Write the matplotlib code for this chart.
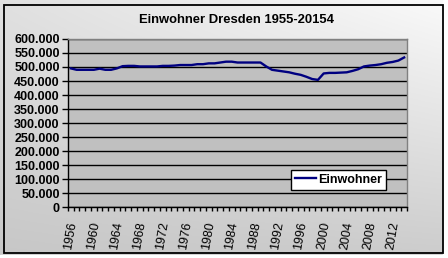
import matplotlib
matplotlib.use("Agg")
import matplotlib.pyplot as plt
import numpy as np
from matplotlib.patches import Rectangle
from matplotlib.ticker import FixedLocator, FuncFormatter

years = list(range(1956, 2015))
einwohner = [495000, 490000, 490000, 490000, 490000, 494000, 490000, 490000, 495000, 503000,
             504000, 504000, 502000, 502000, 502000, 502000, 504000, 504000, 505000, 507000,
             507000, 507000, 510000, 510000, 513000, 513000, 516000, 519000, 519000, 516000,
             516000, 516000, 516000, 516000, 502000, 490000, 487000, 484000, 481000, 476000,
             472000, 465000, 457000, 454000, 477000, 479000, 479000, 480000, 481000, 486000,
             492000, 502000, 505000, 507000, 510000, 515000, 518000, 523000, 534000]
title = "Einwohner Dresden 1955-20154"
series_name = "Einwohner"
y_ticks = list(range(0, 600001, 50000))
label_years = list(range(1956, 2013, 4))

plt.rcParams['font.family'] = ['Liberation Sans', 'DejaVu Sans']

W, H = 448, 258
fig = plt.figure(figsize=(W / 100, H / 100), dpi=100)

# background gradient
bg = fig.add_axes([0, 0, 1, 1], zorder=-10)
bg.set_axis_off()
yy, xx = np.mgrid[0:1:200j, 0:1:300j]
val = 0.78 + 0.10 * (1 - yy) + 0.08 * xx * (1 - yy) + 0.02 * xx
bg.imshow(np.dstack([val, val, val]), extent=[0, 1, 0, 1], aspect='auto', origin='upper')
bg.set_xlim(0, 1); bg.set_ylim(0, 1)
bg.add_patch(Rectangle((0.988, 0), 0.02, 1, color='white', transform=bg.transAxes))
bg.add_patch(Rectangle((0, 0), 1, 0.012, color='white', transform=bg.transAxes))
bg.add_patch(Rectangle((4 / W, (H - 253) / H), (443 - 4) / W, (253 - 5) / H,
                       fill=False, edgecolor='black', lw=1.3, transform=bg.transAxes))

ax = fig.add_axes([68 / W, (H - 207) / H, 339 / W, 168 / H])
ax.set_facecolor('#C0C0C0')
x = np.arange(len(years))
ax.plot(x, einwohner, color='#000080', lw=1.7, label=series_name, zorder=3)
ax.set_xlim(-0.5, len(years) - 0.5)
ax.set_ylim(0, 600000)

ax.set_yticks(y_ticks)
ax.yaxis.set_major_formatter(FuncFormatter(lambda v, p: f"{int(v):,}".replace(",", ".")))
ax.grid(axis='y', color='black', lw=1.0)
ax.set_axisbelow(True)

ax.set_xticks([years.index(yv) for yv in label_years])
ax.set_xticklabels([str(yv) for yv in label_years], rotation=80, fontsize=9,
                   ha='center', va='top')
ax.tick_params(axis='x', which='major', length=0, pad=10)
ax.xaxis.set_minor_locator(FixedLocator(np.arange(-0.5, len(years), 1.0)))
ax.tick_params(axis='x', which='minor', length=3, width=1, color='black', direction='out')
ax.tick_params(axis='y', length=4, width=1, color='black', labelsize=9, pad=2)
for lab in ax.get_yticklabels():
    lab.set_fontweight('bold')

for s in ['top', 'right']:
    ax.spines[s].set_color('#808080')
    ax.spines[s].set_linewidth(1)
for s in ['left', 'bottom']:
    ax.spines[s].set_color('black')
    ax.spines[s].set_linewidth(1)

fig.text(236 / W, 1 - 20 / H, title, ha='center', va='center', fontsize=9.4, fontweight='bold')

leg = ax.legend(loc='upper left', bbox_to_anchor=((291 - 68) / 339, (207 - 170) / 168),
                frameon=True, fancybox=False, prop={'weight': 'bold', 'size': 9},
                handlelength=1.7, borderpad=0.3, handletextpad=0.15, borderaxespad=0)
leg.get_frame().set_edgecolor('black')
leg.get_frame().set_linewidth(1)
leg.get_frame().set_facecolor('white')
leg.get_frame().set_alpha(1)

fig.savefig('out.png', dpi=100)
